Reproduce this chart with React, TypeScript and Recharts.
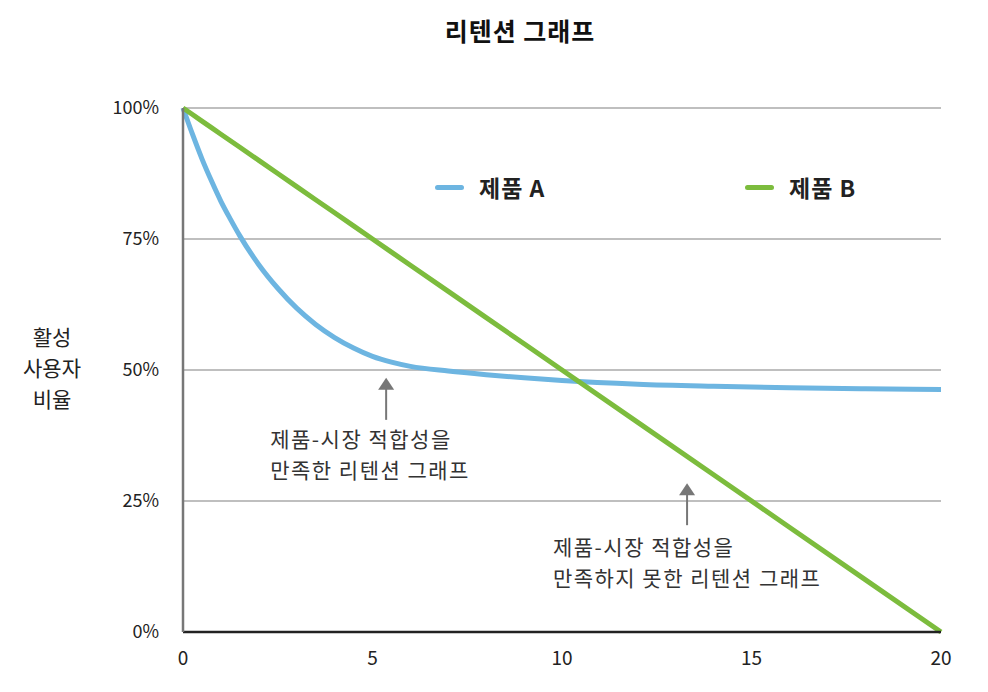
import { CartesianGrid, Legend, Line, LineChart, ReferenceDot, XAxis, YAxis } from "recharts"

const weeks = [0, 0.25, 0.5, 0.75, 1, 1.25, 1.5, 2, 2.5, 3, 3.5, 4, 4.5, 5, 5.5, 6, 7, 8, 9, 10, 12, 14, 16, 18, 20]
const productA = [100, 95, 90.3, 86.1, 82.2, 78.8, 75.6, 70.1, 65.6, 61.8, 58.7, 56.2, 54.2, 52.6, 51.5, 50.7, 49.8, 49.1, 48.5, 48, 47.3, 46.9, 46.6, 46.4, 46.3]
const productB = [100, 98.75, 97.5, 96.25, 95, 93.75, 92.5, 90, 87.5, 85, 82.5, 80, 77.5, 75, 72.5, 70, 65, 60, 55, 50, 40, 30, 20, 10, 0]
const xTicks = [0, 5, 10, 15, 20]
const yTicks = [0, 25, 50, 75, 100]

const data = weeks.map((w, i) => ({ week: w, a: productA[i], b: productB[i] }))

const FONT = "'Noto Sans CJK KR', 'Noto Sans', sans-serif"
const BLUE = "#6db5e1"
const GREEN = "#7cbc3d"

function YLabel({ viewBox }: any) {
  const y = viewBox.y + viewBox.height / 2
  return (
    <text x={44} y={y + 5} textAnchor="middle" fontSize={21} fill="#222" fontFamily={FONT}>
      <tspan x={44} dy={-30}>활성</tspan>
      <tspan x={44} dy={31}>사용자</tspan>
      <tspan x={44} dy={31}>비율</tspan>
    </text>
  )
}

function LegendBox() {
  const items = [
    { name: "제품 A", color: BLUE, left: 0 },
    { name: "제품 B", color: GREEN, left: 310 },
  ]
  return (
    <div style={{ position: "relative", height: 30, fontFamily: FONT }}>
      {items.map((it) => (
        <div key={it.name} style={{ position: "absolute", left: it.left, top: 0, display: "flex", alignItems: "center" }}>
          <span style={{ width: 29, height: 5, borderRadius: 3, background: it.color, display: "inline-block", marginRight: 15 }} />
          <span style={{ fontSize: 23, fontWeight: 700, color: "#222", letterSpacing: 1 }}>{it.name}</span>
        </div>
      ))}
    </div>
  )
}

function Arrow({ cx, cy, len }: any) {
  return (
    <g>
      <line x1={cx} y1={cy + 6} x2={cx} y2={cy + len} stroke="#777" strokeWidth={2} />
      <polygon points={`${cx},${cy} ${cx - 8},${cy + 12} ${cx + 8},${cy + 12}`} fill="#777" />
    </g>
  )
}

function Note({ cx, cy, lines }: any) {
  return (
    <text x={cx} y={cy} fontSize={21} fill="#333" fontFamily={FONT} letterSpacing={1.5}>
      {lines.map((l: string, i: number) => (
        <tspan key={i} x={cx} dy={i === 0 ? 0 : 31}>{l}</tspan>
      ))}
    </text>
  )
}

export default function App() {
  return (
    <div style={{ position: "relative", width: 980, height: 684 }}>
      <div style={{ position: "absolute", top: 4, left: 0, width: 1024, textAlign: "center", fontFamily: FONT, fontSize: 25, fontWeight: 700, color: "#111", letterSpacing: 1 }}>
        리텐션 그래프
      </div>
      <LineChart width={980} height={684} data={data} margin={{ top: 70, right: 47, bottom: 30, left: 115 }}>
        <CartesianGrid vertical={false} stroke="#aaa" strokeWidth={1.5} />
        <XAxis
          dataKey="week"
          type="number"
          domain={[0, 20]}
          ticks={xTicks}
          tickLine={false}
          tickSize={0}
          tickMargin={20}
          height={30}
          axisLine={{ stroke: "#222", strokeWidth: 2.5 }}
          tick={{ fill: "#222", fontSize: 19, fontFamily: FONT }}
        />
        <YAxis
          type="number"
          domain={[0, 100]}
          ticks={yTicks}
          tickFormatter={(v) => `${v}%`}
          tickLine={false}
          tickSize={0}
          tickMargin={24}
          width={60}
          axisLine={{ stroke: "#777", strokeWidth: 2.5 }}
          tick={{ fill: "#222", fontSize: 18, fontFamily: FONT }}
          label={{ content: <YLabel /> }}
        />
        <Legend
          verticalAlign="top"
          content={<LegendBox />}
          wrapperStyle={{ top: 162, left: 427, width: 500 }}
        />
        <Line name="제품 A" dataKey="a" type="monotone" stroke={BLUE} strokeWidth={5} dot={false} isAnimationActive={false} />
        <Line name="제품 B" dataKey="b" type="linear" stroke={GREEN} strokeWidth={5} dot={false} isAnimationActive={false} />
        <ReferenceDot x={5.36} y={48.5} r={0} shape={<Arrow len={42} />} />
        <ReferenceDot x={13.3} y={28.4} r={0} shape={<Arrow len={42} />} />
        <ReferenceDot x={2.3} y={35.3} r={0} shape={<Note lines={["제품-시장 적합성을", "만족한 리텐션 그래프"]} />} />
        <ReferenceDot x={9.76} y={14.7} r={0} shape={<Note lines={["제품-시장 적합성을", "만족하지 못한 리텐션 그래프"]} />} />
      </LineChart>
    </div>
  )
}
